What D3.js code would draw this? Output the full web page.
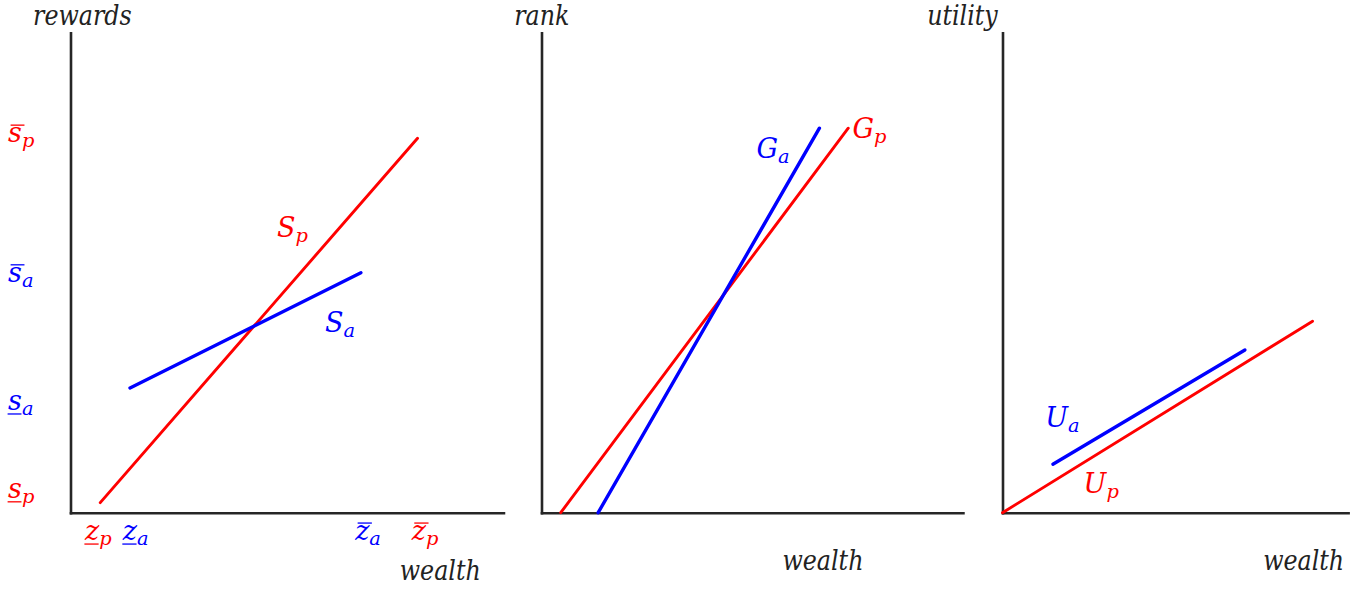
<!DOCTYPE html>
<html>
<head>
<meta charset="utf-8">
<script src="https://cdn.jsdelivr.net/npm/d3@7"></script>
<style>
  body { margin: 0; background: #fff; }
</style>
</head>
<body>
<svg id="chart" width="1370" height="590"></svg>
<script>
// all values are in plot units (axis height = 100)
var sP = [[6.2, 2.1], [72.3, 78.0]],
	sA = [[12.4, 26.0], [60.5, 50.0]],
	gP = [[4.0, 0], [63.9, 80.1]],
	gA = [[11.8, 0], [57.9, 80.1]],
	uP = [[0, 0], [64.6, 39.9]],
	uA = [[10.5, 10.1], [50.5, 33.9]];

var yTitles = ["rewards", "rank", "utility"],
	yTitlePos = [[-7.8, 101.6], [-5.7, 101.6], [-15.7, 101.6]],
	xTitle = "wealth",
	xTitlePos = [[68.6, -14.0], [50.2, -11.9], [54.3, -11.9]];

// tick labels on panel 1: [base, sub, decoration, x, y, series]
var yTickLabels = [
	["s", "p", "over", -13, 77.2, "p"],
	["s", "a", "over", -13, 48.1, "a"],
	["s", "a", "under", -13, 21.4, "a"],
	["s", "p", "under", -13, 3.1, "p"]
];
var xTickLabels = [
	["z", "p", "under", 3.0, -5.7, "p"],
	["z", "a", "under", 10.9, -5.7, "a"],
	["z", "a", "over", 59.3, -5.7, "a"],
	["z", "p", "over", 71.1, -5.7, "p"]
];

// curve names: [panel, base, sub, x, y, series]
var curveLabels = [
	[0, "S", "p", 43.0, 57.5, "p"],
	[0, "S", "a", 53.0, 37.7, "a"],
	[1, "G", "a", 44.8, 73.8, "a"],
	[1, "G", "p", 64.8, 78.0, "p"],
	[2, "U", "a", 8.9, 17.9, "a"],
	[2, "U", "p", 16.9, 4.1, "p"]
];

var panelLines = [[sP, sA], [gP, gA], [uP, uA]];

var colors = {p: "#ff0000", a: "#0000ff"};
var unit = 4.8, baseY = 512.7, fs = 27;
var font = "'DejaVu Serif', serif";
var panels = [{ox: 70.5, xmax: 90.2}, {ox: 541.5, xmax: 87.8}, {ox: 1002.5, xmax: 72}];

var svg = d3.select("#chart");

var y = d3.scaleLinear().domain([0, 100]).range([baseY, baseY - 100 * unit]);

function txt(g, x, yy, color, size) {
	return g.append("text").attr("x", x).attr("y", yy).attr("fill", color)
		.attr("font-family", font).attr("font-style", "italic").attr("font-size", size);
}

// word titles: squeeze a bit so the wide font looks closer to the original
function word(g, x, yy, s) {
	var t = txt(g, x, yy, "#222", fs).text(s);
	var w = t.node().getComputedTextLength();
	t.attr("textLength", w * 0.88).attr("lengthAdjust", "spacingAndGlyphs");
}

function mathLabel(g, x, yy, base, sub, deco, color) {
	var t = txt(g, x, yy, color, fs);
	t.append("tspan").text(base);
	t.append("tspan").attr("dy", 5).attr("font-size", fs * 0.72).text(sub);
	if (deco) {
		var w = t.node().getSubStringLength(0, 1);
		var ly = deco == "over" ? yy - 17 : yy + 4;
		var sh = deco == "over" ? 2.5 : -0.5;
		g.append("line")
			.attr("x1", x + sh).attr("x2", x + w + sh)
			.attr("y1", ly).attr("y2", ly)
			.attr("stroke", color).attr("stroke-width", 1.3);
	}
}

panels.forEach(function(p, i) {
	var x = d3.scaleLinear().domain([0, p.xmax]).range([p.ox, p.ox + p.xmax * unit]);
	var g = svg.append("g");

	g.append("g").attr("transform", "translate(0," + baseY + ")")
		.call(d3.axisBottom(x).tickValues([]).tickSizeOuter(0));
	g.append("g").attr("transform", "translate(" + p.ox + ",0)")
		.call(d3.axisLeft(y).tickValues([]).tickSizeOuter(0));
	g.selectAll(".domain")
		.attr("stroke", "#262626").attr("stroke-width", 2.6).attr("stroke-linecap", "square");

	var line = d3.line().x(function(d){return x(d[0]);}).y(function(d){return y(d[1]);});
	g.selectAll("path.curve").data(panelLines[i]).enter().append("path")
		.attr("class", "curve")
		.attr("d", line)
		.attr("fill", "none")
		.attr("stroke", function(d, j){return j == 0 ? colors.p : colors.a;})
		.attr("stroke-width", function(d, j){return j == 0 ? 2.9 : 3.4;})
		.attr("stroke-linecap", "round");

	word(g, x(yTitlePos[i][0]), y(yTitlePos[i][1]), yTitles[i]);
	word(g, x(xTitlePos[i][0]), y(xTitlePos[i][1]), xTitle);

	curveLabels.filter(function(d){return d[0] == i;}).forEach(function(d) {
		mathLabel(g, x(d[3]), y(d[4]), d[1], d[2], null, colors[d[5]]);
	});

	if (i == 0) {
		yTickLabels.concat(xTickLabels).forEach(function(d) {
			mathLabel(g, x(d[3]), y(d[4]), d[0], d[1], d[2], colors[d[5]]);
		});
	}
});
</script>
</body>
</html>
